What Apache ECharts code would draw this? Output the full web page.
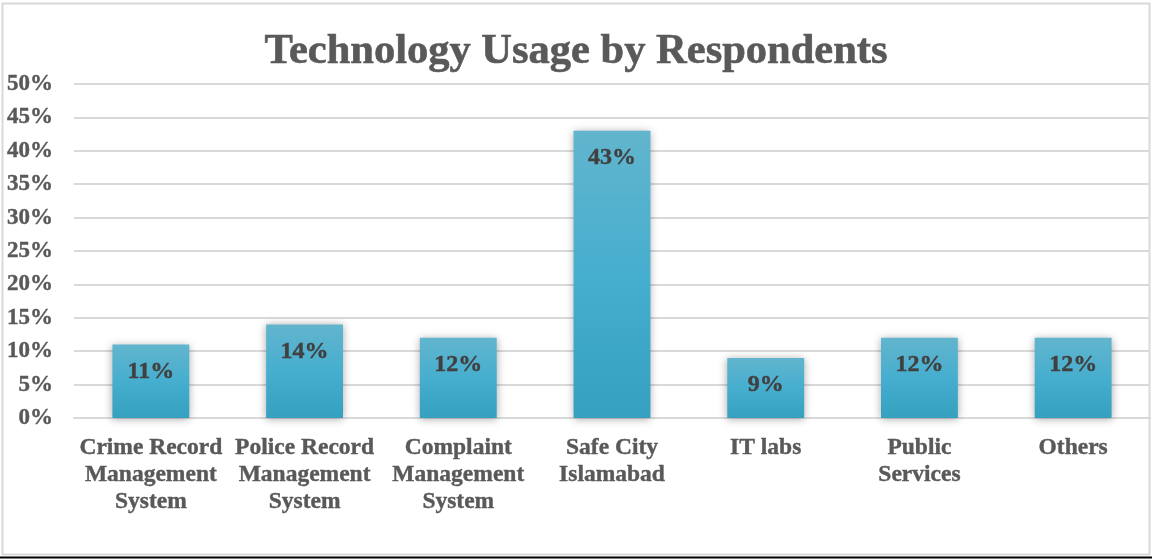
<!DOCTYPE html>
<html>
<head>
<meta charset="utf-8">
<script src="https://cdn.jsdelivr.net/npm/echarts@6/dist/echarts.min.js"></script>
<style>
  html, body { margin: 0; padding: 0; background: #fff; }
  #chart { width: 1152px; height: 559px; }
</style>
</head>
<body>
<div id="chart"></div>
<script>
// Share of respondents using each technology (percent)
const categories = [
  'Crime Record\nManagement\nSystem',
  'Police Record\nManagement\nSystem',
  'Complaint\nManagement\nSystem',
  'Safe City\nIslamabad',
  'IT labs',
  'Public\nServices',
  'Others'
];
const usage = [11, 14, 12, 43, 9, 12, 12];
const yTicks = [0, 5, 10, 15, 20, 25, 30, 35, 40, 45, 50];

const serif = '"Liberation Serif", "Times New Roman", serif';

const chart = echarts.init(document.getElementById('chart'), null, { renderer: 'canvas' });

chart.setOption({
  backgroundColor: '#ffffff',
  animation: false,
  title: {
    text: 'Technology Usage by Respondents',
    left: 'center',
    top: 26,
    textStyle: {
      fontFamily: serif, fontSize: 42.5, fontWeight: 'bold', color: '#595959',
      textBorderColor: '#595959', textBorderWidth: 0.6
    }
  },
  graphic: [
    {
      type: 'rect',
      shape: { x: 2.5, y: 3.5, width: 1147, height: 551 },
      style: { fill: 'none', stroke: '#d9d9d9', lineWidth: 2 },
      silent: true
    },
    {
      type: 'rect',
      shape: { x: 0, y: 556.5, width: 1152, height: 2 },
      style: { fill: '#000000' },
      silent: true
    }
  ],
  grid: { left: 74, right: 2, top: 84, bottom: 141, containLabel: false },
  xAxis: {
    type: 'category',
    data: categories,
    axisLine: { show: true, lineStyle: { color: '#d9d9d9', width: 2 } },
    axisTick: { show: false },
    axisLabel: {
      interval: 0,
      margin: 16,
      fontFamily: serif,
      fontSize: 23.5,
      fontWeight: 'bold',
      color: '#595959',
      lineHeight: 27,
      textBorderColor: '#595959',
      textBorderWidth: 0.4
    }
  },
  yAxis: {
    type: 'value',
    min: yTicks[0],
    max: yTicks[yTicks.length - 1],
    interval: 5,
    axisLine: { show: false },
    axisTick: { show: false },
    splitLine: { lineStyle: { color: '#d9d9d9', width: 2 } },
    axisLabel: {
      margin: 21,
      fontFamily: serif,
      fontSize: 23,
      fontWeight: 'bold',
      color: '#595959',
      textBorderColor: '#595959',
      textBorderWidth: 0.4,
      formatter: v => v + '%'
    }
  },
  series: [{
    type: 'bar',
    data: usage,
    barWidth: '50%',
    itemStyle: {
      color: new echarts.graphic.LinearGradient(0, 0, 0, 1, [
        { offset: 0, color: '#62b5cd' },
        { offset: 0.5, color: '#46aecf' },
        { offset: 1, color: '#35a0bf' }
      ]),
      shadowColor: 'rgba(0,0,0,0.35)',
      shadowBlur: 8,
      shadowOffsetX: 0,
      shadowOffsetY: 1
    },
    label: {
      show: true,
      position: 'insideTop',
      distance: 15,
      formatter: p => p.value + '%',
      fontFamily: serif,
      fontSize: 24,
      fontWeight: 'bold',
      color: '#404040',
      textBorderColor: '#404040',
      textBorderWidth: 0.4
    }
  }]
});
</script>
</body>
</html>
